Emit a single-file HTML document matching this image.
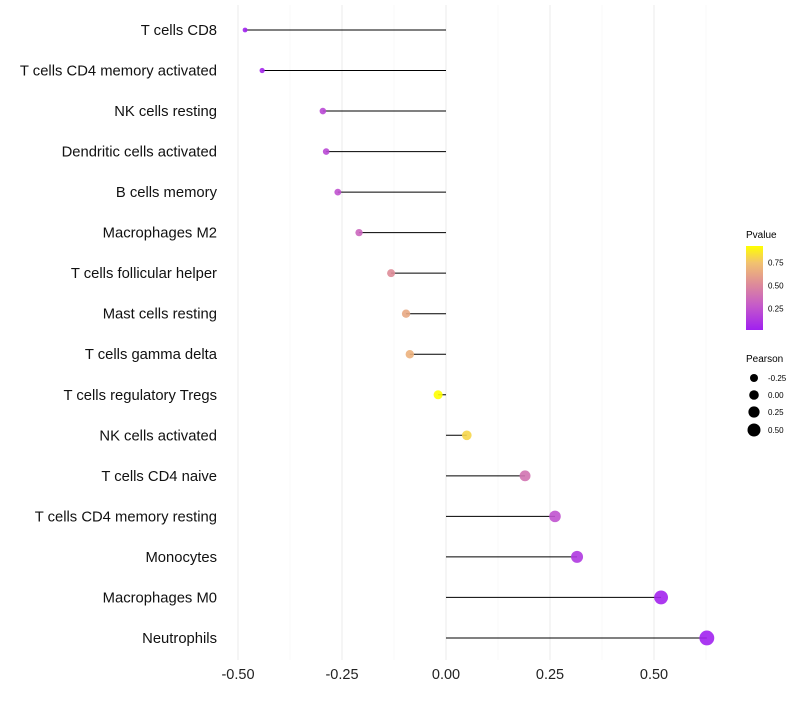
<!DOCTYPE html>
<html><head><meta charset="utf-8"><style>
body{margin:0;background:#fff;font-family:"Liberation Sans",sans-serif}
</style></head><body>
<svg id="chart" width="800" height="700" xmlns="http://www.w3.org/2000/svg">
<defs><linearGradient id="pg" x1="0" y1="1" x2="0" y2="0">
<stop offset="0" stop-color="#a020f0"/><stop offset="0.3" stop-color="#c65cc8"/><stop offset="0.55" stop-color="#de8c98"/><stop offset="0.8" stop-color="#f2c270"/><stop offset="1" stop-color="#ffff00"/></linearGradient></defs>
<g id="grid"></g><g id="marks"></g><g id="labels"></g>
<g font-size="10">
<text x="746" y="238" font-size="10">Pvalue</text>
<rect x="746" y="246" width="17" height="84" fill="url(#pg)"/>
<text x="768" y="265.5" font-size="8">0.75</text><text x="768" y="288.5" font-size="8">0.50</text><text x="768" y="311.5" font-size="8">0.25</text>
</g>
<g>
<text x="746" y="362" font-size="10">Pearson</text>
<circle cx="754" cy="378" r="4" fill="#000"/><text x="768" y="381" font-size="8">-0.25</text>
<circle cx="754" cy="395" r="4.8" fill="#000"/><text x="768" y="398" font-size="8">0.00</text>
<circle cx="754" cy="412" r="5.6" fill="#000"/><text x="768" y="415" font-size="8">0.25</text>
<circle cx="754" cy="430" r="6.5" fill="#000"/><text x="768" y="433" font-size="8">0.50</text>
</g>
</svg>
<script>
const categories=["T cells CD8","T cells CD4 memory activated","NK cells resting","Dendritic cells activated","B cells memory","Macrophages M2","T cells follicular helper","Mast cells resting","T cells gamma delta","T cells regulatory  Tregs ","NK cells activated","T cells CD4 naive","T cells CD4 memory resting","Monocytes","Macrophages M0","Neutrophils"];
const pearson=[-0.483,-0.442,-0.296,-0.288,-0.26,-0.209,-0.132,-0.096,-0.087,-0.019,0.05,0.19,0.262,0.315,0.517,0.627];
const pvalue=[0.01,0.03,0.2,0.2,0.25,0.35,0.55,0.68,0.72,0.95,0.85,0.42,0.25,0.12,0.02,0.01];
const xticks=[-0.5,-0.25,0,0.25,0.5];
const xtickLabels=["-0.50","-0.25","0.00","0.25","0.50"];
const minorTicks=[-0.375,-0.125,0.125,0.375,0.625];
const NS="http://www.w3.org/2000/svg";
const xs=v=>446+v*416;
const ys=i=>30+i*40.53;
const rs=v=>4.6+4.5*v;
const stops=[[0,[160,32,240]],[0.3,[198,92,200]],[0.55,[222,140,152]],[0.8,[242,194,112]],[0.95,[255,255,0]]];
function col(p){if(p<=0)return "rgb(160,32,240)";for(let k=1;k<stops.length;k++){if(p<=stops[k][0]){const a=stops[k-1],b=stops[k],t=(p-a[0])/(b[0]-a[0]);return "rgb("+a[1].map((c,j)=>Math.round(c+(b[1][j]-c)*t)).join(",")+")";}}return "rgb(255,255,0)";}
function mk(t,at,parent){const e=document.createElementNS(NS,t);for(const k in at)e.setAttribute(k,at[k]);document.getElementById(parent).appendChild(e);return e;}
minorTicks.forEach(v=>{const l=mk("line",{x1:xs(v),x2:xs(v),y1:5,y2:660,stroke:"#f4f4f4","stroke-width":0.6},"grid");

});
xticks.forEach((v,i)=>{const l=mk("line",{x1:xs(v),x2:xs(v),y1:5,y2:660,stroke:"#ebebeb","stroke-width":1},"grid");


const t=mk("text",{x:xs(v),y:679,"text-anchor":"middle","font-size":14.5,fill:"#222"},"labels");t.textContent=xtickLabels[i];

});
categories.forEach((c,i)=>{const y=ys(i);
const t=mk("text",{x:217,y:y+5,"text-anchor":"end","font-size":14.8,fill:"#111"},"labels");t.textContent=c;


const ln=mk("line",{x1:xs(0),x2:xs(pearson[i]),y1:y,y2:y,stroke:"#000","stroke-width":1},"marks");


const ci=mk("circle",{cx:xs(pearson[i]),cy:y,r:rs(pearson[i]),fill:col(pvalue[i]),"fill-opacity":0.9},"marks");

});
</script>
</body></html>
